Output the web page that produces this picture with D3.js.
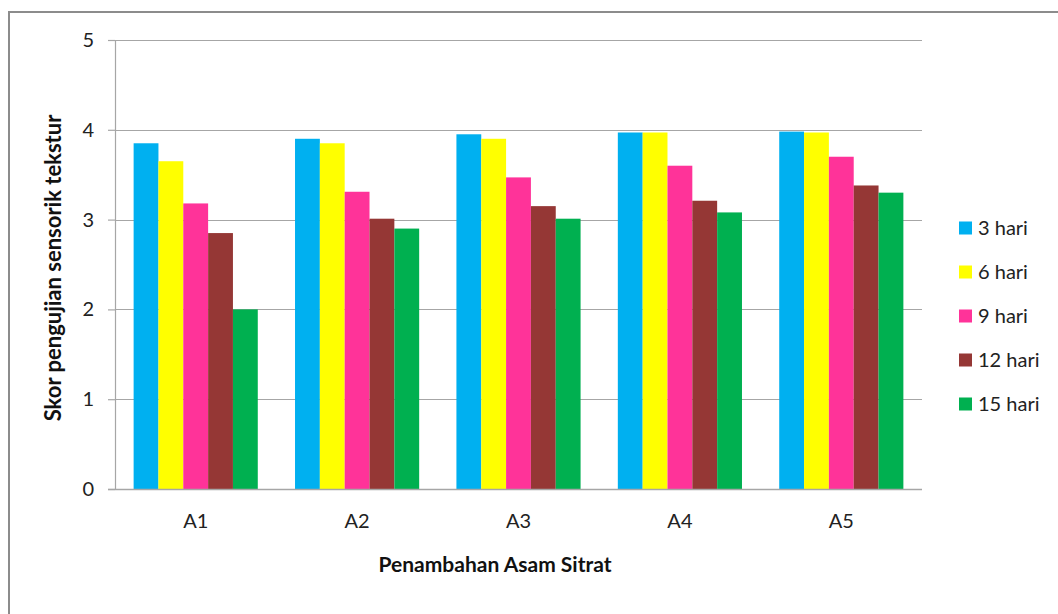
<!DOCTYPE html>
<html>
<head>
<meta charset="utf-8">
<script src="https://cdn.jsdelivr.net/npm/d3@7"></script>
<style>
  html, body { margin: 0; padding: 0; background: #fff; }
  svg { display: block; font-family: Lato, "Open Sans", sans-serif; }
</style>
</head>
<body>
<svg id="chart" width="1058" height="614"></svg>
<script>
// Texture sensory scores per citric acid level, by storage day
const categories = ["A1", "A2", "A3", "A4", "A5"];
const seriesNames = ["3 hari", "6 hari", "9 hari", "12 hari", "15 hari"];
const hari3  = [3.85, 3.90, 3.95, 3.97, 3.98];
const hari6  = [3.65, 3.85, 3.90, 3.97, 3.97];
const hari9  = [3.18, 3.31, 3.47, 3.60, 3.70];
const hari12 = [2.85, 3.01, 3.15, 3.21, 3.38];
const hari15 = [2.00, 2.90, 3.01, 3.08, 3.30];
const yTicks = [0, 1, 2, 3, 4, 5];
const colors = ["#00B0F0", "#FFFF00", "#FF3399", "#953735", "#00B050"];

const seriesValues = [hari3, hari6, hari9, hari12, hari15];

const svg = d3.select("#chart");
const plot = { left: 115, right: 922, top: 40, bottom: 489 };

// Outer chart border (continues past the right and bottom edges)
svg.append("rect")
  .attr("x", 9).attr("y", 12)
  .attr("width", 1100).attr("height", 700)
  .attr("fill", "none")
  .attr("stroke", "#8c8c8c")
  .attr("stroke-width", 2);

const y = d3.scaleLinear().domain([0, 5]).range([plot.bottom, plot.top]);
const x0 = d3.scaleBand().domain(categories).range([plot.left, plot.right]).paddingInner(0).paddingOuter(0);
const catW = x0.bandwidth();
const barW = catW / 6.5;           // gap between groups = 1.5 bar widths
const x1 = d3.scaleBand().domain(seriesNames)
  .range([barW * 0.75, catW - barW * 0.75]).padding(0);

// Horizontal gridlines
svg.append("g")
  .selectAll("line")
  .data(yTicks.filter(d => d > 0))
  .join("line")
  .attr("x1", plot.left).attr("x2", plot.right)
  .attr("y1", d => Math.round(y(d)) + 0.5).attr("y2", d => Math.round(y(d)) + 0.5)
  .attr("stroke", "#a6a6a6").attr("stroke-width", 1.2);

// Bars
const groups = svg.append("g")
  .selectAll("g")
  .data(categories)
  .join("g")
  .attr("transform", d => `translate(${x0(d)},0)`);

groups.selectAll("rect")
  .data((c, i) => seriesNames.map((s, j) => ({ s, v: seriesValues[j][i], c: colors[j] })))
  .join("rect")
  .attr("x", d => x1(d.s))
  .attr("width", x1.bandwidth())
  .attr("y", d => y(d.v))
  .attr("height", d => y(0) - y(d.v))
  .attr("fill", d => d.c);

// Y axis
const yAxis = svg.append("g")
  .attr("transform", `translate(${plot.left},0)`)
  .call(d3.axisLeft(y).tickValues(yTicks).tickSize(7).tickPadding(14).tickFormat(d3.format("d")));
yAxis.select(".domain").attr("stroke", "#a6a6a6").attr("stroke-width", 1.2);
yAxis.selectAll(".tick line").attr("stroke", "#a6a6a6").attr("stroke-width", 1.2);
yAxis.selectAll(".tick text").attr("font-size", 20).attr("fill", "#222").attr("font-family", "Lato, sans-serif");

// X axis
const xAxis = svg.append("g")
  .attr("transform", `translate(0,${plot.bottom})`)
  .call(d3.axisBottom(x0).tickSize(0).tickPadding(25));
xAxis.select(".domain").attr("stroke", "#a6a6a6").attr("stroke-width", 1.5)
  .attr("d", `M${plot.left - 7},0.5H${plot.right}`);
xAxis.selectAll(".tick text").attr("font-size", 20).attr("fill", "#222").attr("font-family", "Lato, sans-serif");

// Axis titles
svg.append("text")
  .attr("x", 495)
  .attr("y", 572)
  .attr("text-anchor", "middle")
  .attr("font-size", 21).attr("font-weight", "bold").attr("fill", "#111")
  .text("Penambahan Asam Sitrat");

svg.append("text")
  .attr("transform", "translate(61,268) rotate(-90)")
  .attr("text-anchor", "middle")
  .attr("font-size", 22).attr("font-weight", "bold").attr("fill", "#111")
  .text("Skor pengujian sensorik tekstur");

// Legend
const legend = svg.append("g").attr("transform", "translate(959,228)");
const items = legend.selectAll("g")
  .data(seriesNames)
  .join("g")
  .attr("transform", (d, i) => `translate(0,${i * 44})`);
items.append("rect")
  .attr("x", 0).attr("y", -6.5)
  .attr("width", 13).attr("height", 13)
  .attr("fill", (d, i) => colors[i]);
items.append("text")
  .attr("x", 19).attr("y", 0)
  .attr("dy", "0.35em")
  .attr("font-size", 20).attr("fill", "#222")
  .text(d => d);
</script>
</body>
</html>
